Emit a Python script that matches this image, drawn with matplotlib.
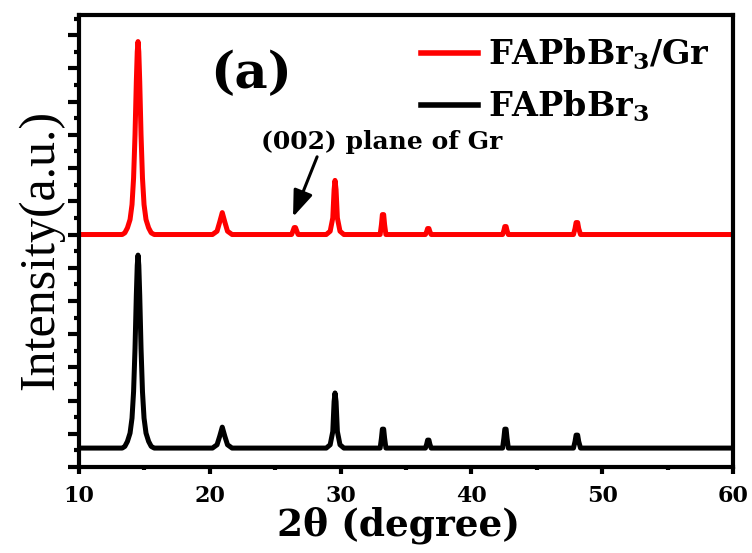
import numpy as np
import matplotlib
matplotlib.use("Agg")
import matplotlib.pyplot as plt

plt.rcParams['font.family'] = ['DejaVu Serif']
plt.rcParams['font.weight'] = 'bold'
plt.rcParams['mathtext.default'] = 'regular'

# black curve: FAPbBr3 (2theta, intensity above baseline)
black_x = [10, 13.3, 13.5, 13.7, 13.9, 14.05, 14.17, 14.28, 14.38, 14.45, 14.51, 14.57, 14.64, 14.74,
           14.85, 14.97, 15.12, 15.32, 15.52, 15.75,
           20.2, 20.55, 20.75, 20.95, 21.15, 21.35, 21.7,
           28.9, 29.2, 29.4, 29.5, 29.57, 29.65, 29.75, 29.95, 30.25,
           33.02, 33.12, 33.19, 33.29, 33.36, 33.46,
           36.48, 36.58, 36.65, 36.75, 36.82, 36.92,
           42.38, 42.48, 42.55, 42.65, 42.72, 42.82,
           47.8, 47.92, 48.0, 48.12, 48.2, 48.34, 60]
black_y = [0, 0, 0.05, 0.2, 0.45, 0.9, 1.7, 3.0, 4.6, 5.5, 5.81, 5.5, 4.6, 3.0,
           1.7, 0.9, 0.45, 0.2, 0.05, 0,
           0, 0.1, 0.35, 0.63, 0.35, 0.1, 0,
           0, 0.1, 0.5, 1.4, 1.66, 1.4, 0.5, 0.1, 0,
           0, 0.3, 0.57, 0.57, 0.3, 0,
           0, 0.12, 0.24, 0.24, 0.12, 0,
           0, 0.3, 0.57, 0.57, 0.3, 0,
           0, 0.2, 0.39, 0.39, 0.2, 0, 0]

# red curve: FAPbBr3/Gr
red_x = [10, 13.3, 13.5, 13.7, 13.9, 14.05, 14.17, 14.28, 14.38, 14.45, 14.51, 14.57, 14.64, 14.74,
         14.85, 14.97, 15.12, 15.32, 15.52, 15.75,
         20.2, 20.55, 20.75, 20.95, 21.15, 21.35, 21.7,
         26.25, 26.35, 26.45, 26.55, 26.65, 26.75,
         28.9, 29.2, 29.4, 29.5, 29.57, 29.65, 29.75, 29.95, 30.25,
         33.02, 33.12, 33.19, 33.29, 33.36, 33.46,
         36.48, 36.58, 36.65, 36.75, 36.82, 36.92,
         42.38, 42.48, 42.55, 42.65, 42.72, 42.82,
         47.8, 47.92, 48.0, 48.12, 48.2, 48.34, 60]
red_y = [0, 0, 0.05, 0.2, 0.45, 0.9, 1.7, 3.0, 4.6, 5.5, 5.81, 5.5, 4.6, 3.0,
         1.7, 0.9, 0.45, 0.2, 0.05, 0,
         0, 0.1, 0.37, 0.66, 0.37, 0.1, 0,
         0, 0.1, 0.21, 0.21, 0.1, 0,
         0, 0.1, 0.5, 1.35, 1.63, 1.35, 0.5, 0.1, 0,
         0, 0.3, 0.6, 0.6, 0.3, 0,
         0, 0.09, 0.18, 0.18, 0.09, 0,
         0, 0.12, 0.24, 0.24, 0.12, 0,
         0, 0.18, 0.36, 0.36, 0.18, 0, 0]

black_base = 0.57
red_base = 7.0

fig = plt.figure(figsize=(7.52, 5.53), dpi=100)
ax = fig.add_axes([0.1051, 0.1555, 0.8697, 0.8174])

ax.plot(red_x, np.array(red_y) + red_base, color='#ff0000', lw=3.6, label=r'FAPbBr$_3$/Gr',
        solid_joinstyle='round')
ax.plot(black_x, np.array(black_y) + black_base, color='black', lw=3.6, label=r'FAPbBr$_3$',
        solid_joinstyle='round')

ax.set_xlim(10, 60)
ax.set_ylim(0, 13.61)
ax.set_xticks(np.arange(10, 61, 10))
ax.set_xticks(np.arange(15, 60, 10), minor=True)
ax.set_yticks(np.arange(0, 13.7, 1))
ax.set_yticks(np.arange(0.5, 13.6, 1), minor=True)
ax.set_yticklabels([])

for s in ['top', 'right', 'bottom', 'left']:
    ax.spines[s].set_linewidth(3)
ax.tick_params(axis='x', which='major', direction='out', length=5, width=3, pad=8, labelsize=16)
ax.tick_params(axis='x', which='minor', direction='out', length=2.5, width=3)
ax.tick_params(axis='y', which='major', direction='out', length=8, width=3)
ax.tick_params(axis='y', which='minor', direction='out', length=3.5, width=3)
for lab in ax.get_xticklabels():
    lab.set_fontweight('bold')

ax.set_xlabel('2θ (degree)', fontsize=27, fontweight='bold')
ax.xaxis.set_label_coords(0.488, -0.088)
ax.set_ylabel('Intensity(a.u.)', fontsize=36, fontweight='normal', family='Liberation Serif')
ax.yaxis.set_label_coords(-0.022, 0.48)

ax.text(0.263, 0.867, '(a)', transform=ax.transAxes, fontsize=37, fontweight='bold',
        ha='center', va='center')

ax.text(33.17, 9.79, '(002) plane of Gr', fontsize=18, fontweight='bold', ha='center', va='center')
ax.annotate('', xy=(26.36, 7.53), xytext=(28.2, 9.34),
            arrowprops=dict(arrowstyle='-|>,head_length=0.8,head_width=0.3', lw=2.2, color='black',
                            shrinkA=0, shrinkB=0, mutation_scale=20))

leg = ax.legend(loc='upper left', bbox_to_anchor=(0.523, 0.952), frameon=False, fontsize=24,
                handlelength=1.7, handletextpad=0.3, labelspacing=0.5, borderpad=0,
                borderaxespad=0)
for line in leg.get_lines():
    line.set_linewidth(4)

plt.savefig('out.png', dpi=100)
